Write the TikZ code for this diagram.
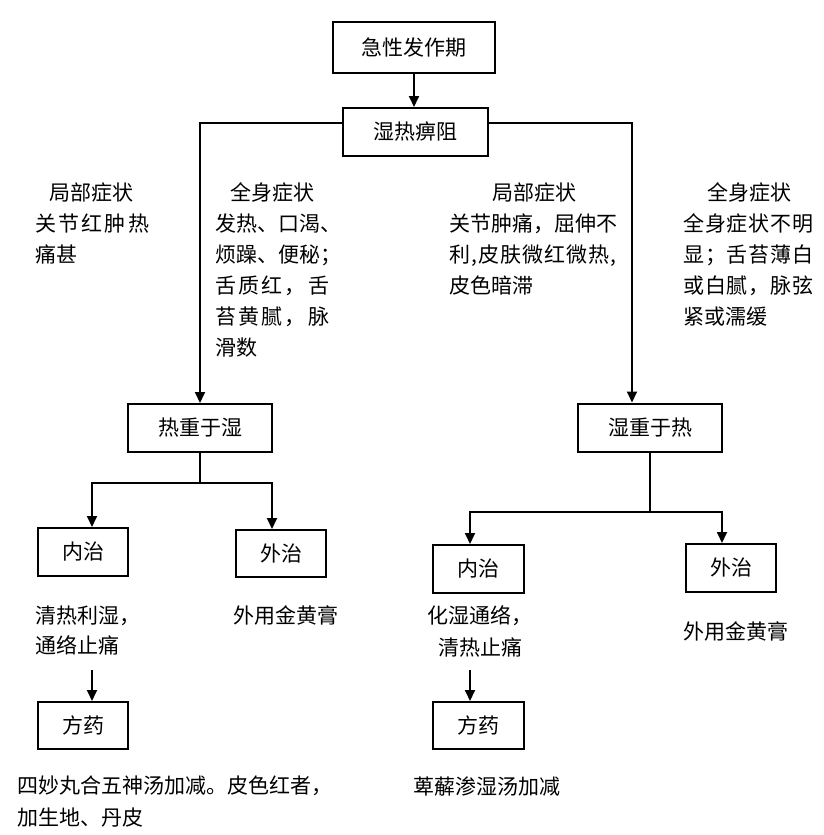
\documentclass[tikz,border=0pt]{standalone}
\usepackage{fontspec}
\setmainfont{Noto Sans CJK SC}
\usetikzlibrary{arrows.meta}
\newcommand\fs{\fontsize{21pt}{31pt}\selectfont}
\makeatletter
\newcommand\spr[2]{\makebox[#1][s]{\spr@a#2\@nil}}
\def\spr@a#1#2\@nil{#1\ifx\relax#2\relax\else\hfil\spr@a#2\@nil\fi}
\makeatother
\begin{document}
\begin{tikzpicture}[x=1pt,y=-1pt,
  box/.style={draw, line width=2pt, inner sep=0pt, minimum width=#1, minimum height=48pt, font=\fs},
  box/.default=90pt,
  arr/.style={line width=1.8pt, -{Triangle[length=11pt,width=10pt]}},
  txt/.style={font=\fs, inner sep=0pt, anchor=north west, align=left}]
\fill[white] (0,0) rectangle (824,835);
\useasboundingbox (0,0) rectangle (824,835);
% boxes
\node[box=162pt, minimum height=51pt] (top) at (414,47.5) {急性发作期};
\node[box=145pt] (shire) at (415.5,132) {湿热痹阻};
\node[box=144pt] (rz) at (200,428) {热重于湿};
\node[box=144pt] (sz) at (650,427.5) {湿重于热};
\node[box] (lnei) at (83,552) {内治};
\node[box, minimum height=47pt] (lwai) at (281,553.5) {外治};
\node[box, minimum height=47pt] (lfang) at (83,725.5) {方药};
\node[box=91pt] (rnei) at (478.5,569) {内治};
\node[box] (rwai) at (731,568) {外治};
\node[box=91pt, minimum height=47pt] (rfang) at (478.5,725.5) {方药};
% junctions
\coordinate (jl) at (200,123);
\coordinate (jr) at (632,123);
\coordinate (bl1) at (92,483);
\coordinate (bl2) at (272,483);
\coordinate (br1) at (470,512);
\coordinate (br2) at (722,512);
\coordinate (tl) at (92,670);
\coordinate (tr) at (470,670);
% connectors
\draw[arr] (top.south) -- (top.south |- shire.north);
\draw[arr] (shire.west |- jl) -- (jl) -- (jl |- rz.north);
\draw[arr] (shire.east |- jr) -- (jr) -- (jr |- sz.north);
\draw[arr] (rz.south) |- (bl1) -- (bl1 |- lnei.north);
\draw[arr] (rz.south) |- (bl2) -- (bl2 |- lwai.north);
\draw[arr] (sz.south) |- (br1) -- (br1 |- rnei.north);
\draw[arr] (sz.south) |- (br2) -- (br2 |- rwai.north);
\draw[arr] (tl) -- (tl |- lfang.north);
\draw[arr] (tr) -- (tr |- rfang.north);
% texts
\node[txt] (t1) at (35,182.5) {\hspace*{14pt}局部症状\\ \spr{114pt}{关节红肿热}\\ 痛甚};
\node[txt] (t2) at (215,182.5) {\hspace*{15pt}全身症状\\ 发热、口渴、\\ 烦躁、便秘；\\ \spr{114pt}{舌质红，舌}\\ \spr{114pt}{苔黄腻，脉}\\ 滑数};
\node[txt] (t3) at (449,182.5) {\hspace*{43pt}局部症状\\ 关节肿痛，屈伸不\\ \spr{167pt}{利,皮肤微红微热,}\\ 皮色暗滞};
\node[txt] (t4) at (683,182.5) {\hspace*{24pt}全身症状\\ \spr{130pt}{全身症状不明}\\ \spr{130pt}{显；舌苔薄白}\\ \spr{130pt}{或白腻，脉弦}\\ 紧或濡缓};
\node[txt, font={\fontsize{21pt}{30pt}\selectfont}] (t5) at (35,605.5) {清热利湿，\\ 通络止痛};
\node[txt] (t6) at (233,605.5) {外用金黄膏};
\node[txt, anchor=north, align=center, font={\fontsize{21pt}{32pt}\selectfont}] (t7) at (480,605.5) {化湿通络，\\ 清热止痛};
\node[txt] (t8) at (683,621.5) {外用金黄膏};
\node[txt, font={\fontsize{21pt}{32pt}\selectfont}] (t9) at (17,775.5) {四妙丸合五神汤加减。皮色红者，\\ 加生地、丹皮};
\node[txt] (t10) at (413,776.5) {萆薢渗湿汤加减};
\end{tikzpicture}
\end{document}
